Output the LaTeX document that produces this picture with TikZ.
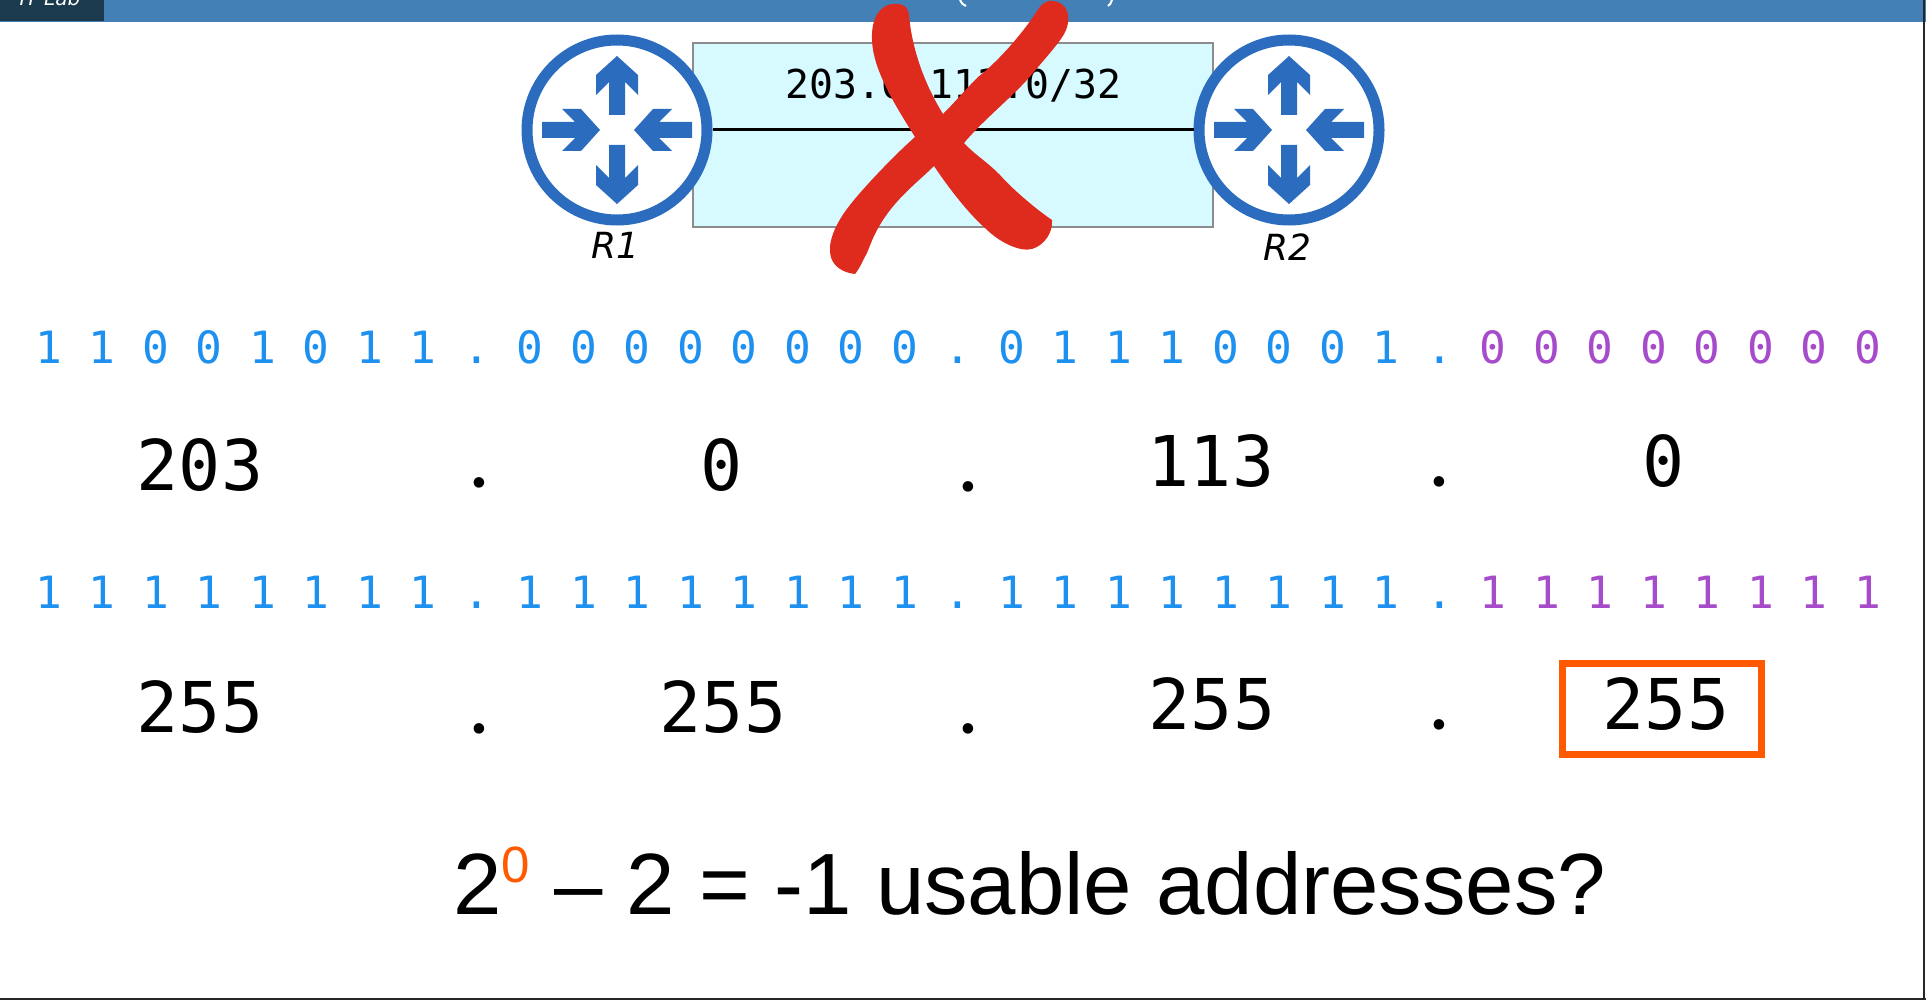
\documentclass[tikz,border=0pt]{standalone}
\usepackage{fontspec}
\setmainfont{Liberation Sans}
\newfontfamily\monofont{DejaVu Sans Mono}
\newfontfamily\obliquefont{DejaVu Sans}
\newfontfamily\roundfont{Lato}
\usetikzlibrary{shapes,positioning}
\definecolor{barblue}{HTML}{4380B5}
\definecolor{tabdark}{HTML}{1B3A4D}
\definecolor{rtrblue}{HTML}{2B6CBF}
\definecolor{linkcyan}{HTML}{D6FAFF}
\definecolor{bitblue}{HTML}{1E90F0}
\definecolor{bitpurple}{HTML}{A64CCB}
\definecolor{markorange}{HTML}{FF5A00}
\definecolor{crossred}{HTML}{DE2B1E}
\frenchspacing
\tikzset{
	router/.style={circle,draw=rtrblue,line width=5.5pt,fill=white,minimum size=90pt,inner sep=0pt},
	rtrlabel/.style={font=\obliquefont\itshape\fontsize{18}{18}\selectfont,inner sep=0pt},
	bitrow/.style={font=\monofont\fontsize{22.22}{24}\selectfont,text=bitblue,inner sep=0pt,anchor=base west},
	octet/.style={font=\monofont\fontsize{35}{36}\selectfont,inner sep=0pt,anchor=base},
	octetdot/.style={font=\roundfont\fontsize{42}{42}\selectfont,inner sep=0pt,anchor=base},
	rtrarrows/.pic={
		\foreach \a in {90,270}
			\fill[rtrblue,rotate=\a] (15,-8) -- (48,-8) -- (35,-21) -- (55,-21) -- (74,0) -- (55,21) -- (35,21) -- (48,8) -- (15,8) -- cycle;
		\foreach \a in {0,180}
			\fill[rtrblue,rotate=\a] (-75,-8) -- (-42,-8) -- (-55,-21) -- (-36,-21) -- (-17,0) -- (-36,21) -- (-55,21) -- (-42,8) -- (-75,8) -- cycle;
	}
}
\begin{document}
\begin{tikzpicture}[x=0.5pt,y=-0.5pt]
	\useasboundingbox (0,0) rectangle (1926,1000);
	\clip (0,0) rectangle (1926,1000);
	% top bar
	\fill[barblue] (0,0) rectangle (1926,22);
	\fill[tabdark] (0,0) rectangle (104,21);
	\node[text=white,font=\obliquefont\itshape\fontsize{10}{10}\selectfont,inner sep=0pt,anchor=base] (tablabel) at (50,6) {IT Lab};
	\draw[white,line width=1pt] (960,0) .. controls (961,3) and (963,5) .. (966,6);
	\draw[white,line width=1pt] (1112,0) .. controls (1111,3) and (1110,5) .. (1108,6);
	% link
	\node[draw=gray!90,fill=linkcyan,line width=0.8pt,minimum width=260pt,minimum height=92pt,inner sep=0pt] (subnet) at (953,135) {};
	\node[font=\monofont\fontsize{19.9}{20}\selectfont,inner sep=0pt] (prefix) at (953.5,86) {203.0.113.0/32};
	\node[router] (R1) at (617,130) {};
	\node[router] (R2) at (1289,130) {};
	\draw[line width=1.5pt] (R1) -- (R2);
	\pic at (R1) {rtrarrows};
	\pic at (R2) {rtrarrows};
	\node[rtrlabel,below=3pt of R1,xshift=-1pt] (R1label) {R1};
	\node[rtrlabel,below=4pt of R2,xshift=-1pt] (R2label) {R2};
	% cross
	\fill[crossred] (943,114) .. controls (925,85) and (912,50) .. (909,15)
		.. controls (908,5) and (900,3) .. (893,4)
		.. controls (880,5) and (871,18) .. (872,40)
		.. controls (873,70) and (895,105) .. (915,137)
		.. controls (900,150) and (860,190) .. (844,213)
		.. controls (834,228) and (830,240) .. (830,248)
		.. controls (829,262) and (838,272) .. (855,274)
		.. controls (860,268) and (864,258) .. (867,253)
		.. controls (872,240) and (876,230) .. (885,217)
		.. controls (900,195) and (920,180) .. (934,166)
		.. controls (950,190) and (970,215) .. (985,228)
		.. controls (1000,243) and (1020,252) .. (1032,249)
		.. controls (1045,245) and (1053,232) .. (1052,220)
		.. controls (1040,212) and (1015,192) .. (1000,175)
		.. controls (985,160) and (975,155) .. (964,143)
		.. controls (985,118) and (1015,95) .. (1033,73)
		.. controls (1048,55) and (1062,40) .. (1066,30)
		.. controls (1072,15) and (1066,2) .. (1053,1)
		.. controls (1045,0) and (1041,5) .. (1037,11)
		.. controls (1025,30) and (1000,60) .. (978,77)
		.. controls (965,90) and (955,102) .. (943,114) -- cycle;
	% address
	\node[bitrow] (addrbits) at (34.6,363) {1 1 0 0 1 0 1 1 . 0 0 0 0 0 0 0 0 . 0 1 1 1 0 0 0 1 . \textcolor{bitpurple}{0 0 0 0 0 0 0 0}};
	\node[octet] (a1) at (200,490) {203};
	\node[octet] (a2) at (722,490) {0};
	\node[octet] (a3) at (1211,486) {113};
	\node[octet] (a4) at (1664,486) {0};
	\foreach \x/\y/\n in {479/487/ad1,968/491/ad2,1439/486/ad3}
		\node[octetdot] (\n) at (\x,\y) {.};
	% mask
	\node[bitrow] (maskbits) at (34.6,608) {1 1 1 1 1 1 1 1 . 1 1 1 1 1 1 1 1 . 1 1 1 1 1 1 1 1 . \textcolor{bitpurple}{1 1 1 1 1 1 1 1}};
	\node[octet] (m1) at (200,732) {255};
	\node[octet] (m2) at (723,732) {255};
	\node[octet] (m3) at (1212,729) {255};
	\node[octet] (m4) at (1666,729) {255};
	\foreach \x/\y/\n in {479/733/md1,968/733/md2,1439/729/md3}
		\node[octetdot] (\n) at (\x,\y) {.};
	\node[draw=markorange,line width=3.5pt,minimum width=99.5pt,minimum height=45.5pt,inner sep=0pt] (hostbox) at (1662,709) {};
	% question
	\node[inner sep=0pt,anchor=base,font=\fontsize{43.5}{44}\selectfont] (usable) at (1030,914) {2\raisebox{0.36em}{\textcolor{markorange}{\fontsize{25.5}{26}\selectfont 0}} – 2 = -1 usable addresses?};
	% frame
	\draw[line width=1.2pt,black!85] (1924,0) -- (1924,1000);
	\draw[line width=1pt,black!85] (0,999) -- (1926,999);
\end{tikzpicture}
\end{document}
